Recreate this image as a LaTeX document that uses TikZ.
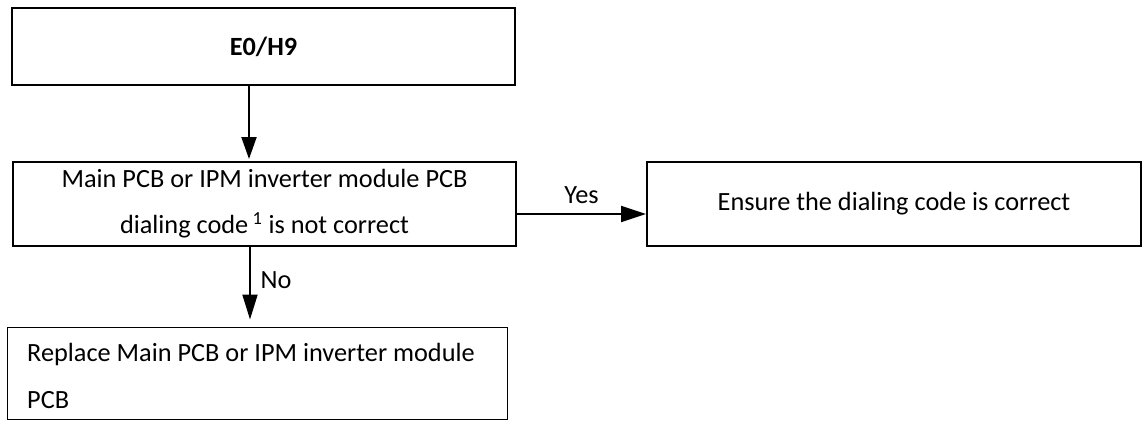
\documentclass[tikz,border=0pt]{standalone}
\usepackage{fontspec}
\setmainfont{Carlito}
\usetikzlibrary{arrows.meta}
\begin{document}
\begin{tikzpicture}[x=1pt,y=-1pt,
  every node/.style={font=\fontsize{26.3}{46}\selectfont, inner sep=0pt},
  box/.style={draw, line width=2pt, rectangle, align=center},
  thinbox/.style={draw, line width=1pt, rectangle},
  arr/.style={line width=2pt, -{Triangle[length=22pt,width=15pt]}},
  lbl/.style={inner sep=0pt}]
\useasboundingbox (0,0) rectangle (1142,421);
\node[box, minimum width=503pt, minimum height=77pt] (top) at (263.5,46.5) {\textbf{E0/H9}};
\node[box, minimum width=503pt, minimum height=84pt] (mid) at (264.5,204)
  {Main PCB or IPM inverter module PCB\\dialing code\,\textsuperscript{1} is not correct};
\node[box, minimum width=494pt, minimum height=84pt] (right) at (894,204)
  {Ensure the dialing code is correct};
\node[thinbox, minimum width=500pt, minimum height=92pt] (bot) at (257,373) {};
\node[lbl, anchor=west, align=left, font=\fontsize{26.3}{47}\selectfont] (bottxt)
  at ([xshift=20.5pt, yshift=-3pt]bot.west) {Replace Main PCB or IPM inverter module\\PCB};
\draw[arr, shorten >=2pt] ([xshift=-14.5pt]top.south) -- ([xshift=-15.5pt]mid.north);
\draw[arr, -{Triangle[length=25pt,width=16pt]}] ([yshift=-10pt]mid.east) -- ([yshift=-10pt]right.west)
  node[lbl, midway, yshift=19pt] (yes) {Yes};
\draw[arr, -{Triangle[length=25pt,width=15pt]}, shorten >=7pt] ([xshift=-14.5pt]mid.south) -- ([xshift=-7pt]bot.north);
\node[lbl] (no) at (276,280) {No};
\end{tikzpicture}
\end{document}
